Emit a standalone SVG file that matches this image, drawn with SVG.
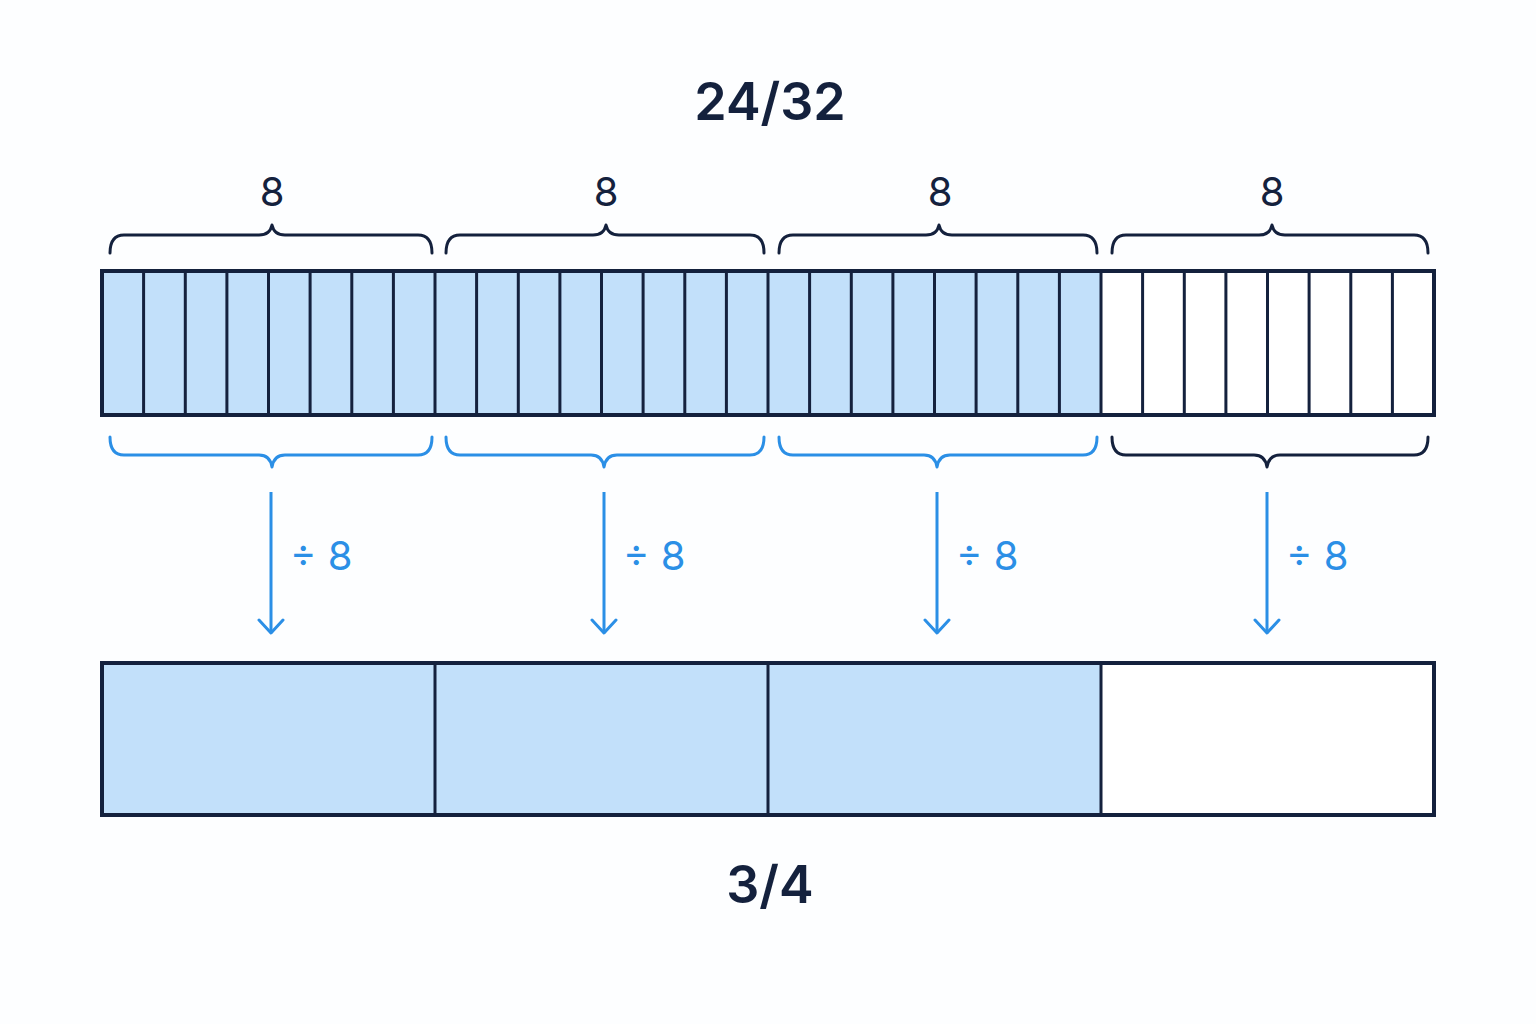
<svg xmlns="http://www.w3.org/2000/svg" width="1536" height="1024" viewBox="0 0 1536 1024">
<defs>
<style>
.t{font-family:"Inter","Liberation Sans",sans-serif;fill:#14213d;text-anchor:middle}
.b{fill:none;stroke:#14213d;stroke-width:3;stroke-linecap:round;stroke-linejoin:round}
.bb{fill:none;stroke:#2b8fe6;stroke-width:3;stroke-linecap:round;stroke-linejoin:round}
.cell{stroke:#14213d;stroke-width:3}
.d{font-family:"Inter","Liberation Sans",sans-serif;fill:#2b8fe6;font-size:40px}
</style>
<marker id="ah" viewBox="0 0 20 20" refX="10" refY="18" markerWidth="20" markerHeight="20" markerUnits="userSpaceOnUse" orient="auto-start-reverse">
<path d="M-2 6 L10 18 L22 6" transform="rotate(-90 10 10)" fill="none" stroke="#2b8fe6" stroke-width="3" stroke-linecap="round"/>
</marker>
</defs>
<rect width="1536" height="1024" fill="#fdfeff"/>
<text class="t" x="770" y="120" font-size="52" font-weight="600">24/32</text>
<g id="top-labels">
<text class="t" x="272" y="206" font-size="40">8</text>
<text class="t" x="606" y="206" font-size="40">8</text>
<text class="t" x="940" y="206" font-size="40">8</text>
<text class="t" x="1272" y="206" font-size="40">8</text>
</g>
<g id="top-braces">
<path class="b" d="M110 253 Q110 235 124 235 L259 235 Q270 235 272 225 Q274 235 285 235 L418 235 Q432 235 432 253"/>
<path class="b" d="M446 253 Q446 235 460 235 L593 235 Q604 235 606 225 Q608 235 619 235 L750 235 Q764 235 764 253"/>
<path class="b" d="M779 253 Q779 235 793 235 L926 235 Q937 235 939 225 Q941 235 952 235 L1083 235 Q1097 235 1097 253"/>
<path class="b" d="M1112 253 Q1112 235 1126 235 L1259 235 Q1270 235 1272 225 Q1274 235 1285 235 L1414 235 Q1428 235 1428 253"/>
</g>
<g id="top-bar">
<rect x="102" y="271" width="999" height="144" fill="#c2e0fa"/>
<rect x="1101" y="271" width="333" height="144" fill="#fff"/>
<path class="cell" d="M143.6 271V415M185.3 271V415M226.9 271V415M268.5 271V415M310.1 271V415M351.8 271V415M393.4 271V415M435 271V415M476.6 271V415M518.3 271V415M559.9 271V415M601.5 271V415M643.1 271V415M684.8 271V415M726.4 271V415M768 271V415M809.6 271V415M851.3 271V415M892.9 271V415M934.5 271V415M976.1 271V415M1017.8 271V415M1059.4 271V415M1101 271V415M1142.6 271V415M1184.3 271V415M1225.9 271V415M1267.5 271V415M1309.1 271V415M1350.8 271V415M1392.4 271V415"/>
<rect x="102" y="271" width="1332" height="144" fill="none" stroke="#14213d" stroke-width="4"/>
</g>
<g id="bottom-braces">
<path class="bb" d="M110 437 Q110 455 124 455 L259 455 Q270 455 272 467 Q274 455 285 455 L418 455 Q432 455 432 437"/>
<path class="bb" d="M446 437 Q446 455 460 455 L591 455 Q602 455 604 467 Q606 455 617 455 L750 455 Q764 455 764 437"/>
<path class="bb" d="M779 437 Q779 455 793 455 L924 455 Q935 455 937 467 Q939 455 950 455 L1083 455 Q1097 455 1097 437"/>
<path class="b" d="M1112 437 Q1112 455 1126 455 L1254 455 Q1265 455 1267 467 Q1269 455 1280 455 L1414 455 Q1428 455 1428 437"/>
</g>
<g id="connectors">
<path d="M271 492V632M604 492V632M937 492V632M1267 492V632" stroke="#2b8fe6" stroke-width="3"/>
<path class="bb" d="M259 620L271 633L283 620M592 620L604 633L616 620M925 620L937 633L949 620M1255 620L1267 633L1279 620"/>
<text class="d" x="290" y="570">÷ 8</text>
<text class="d" x="623" y="570">÷ 8</text>
<text class="d" x="956" y="570">÷ 8</text>
<text class="d" x="1286" y="570">÷ 8</text>
</g>
<g id="bottom-bar">
<rect x="102" y="663" width="999" height="152" fill="#c2e0fa"/>
<rect x="1101" y="663" width="333" height="152" fill="#fff"/>
<path class="cell" d="M435 663V815M768 663V815M1101 663V815"/>
<rect x="102" y="663" width="1332" height="152" fill="none" stroke="#14213d" stroke-width="4"/>
</g>
<text class="t" x="770" y="903" font-size="52" font-weight="600">3/4</text>
</svg>
